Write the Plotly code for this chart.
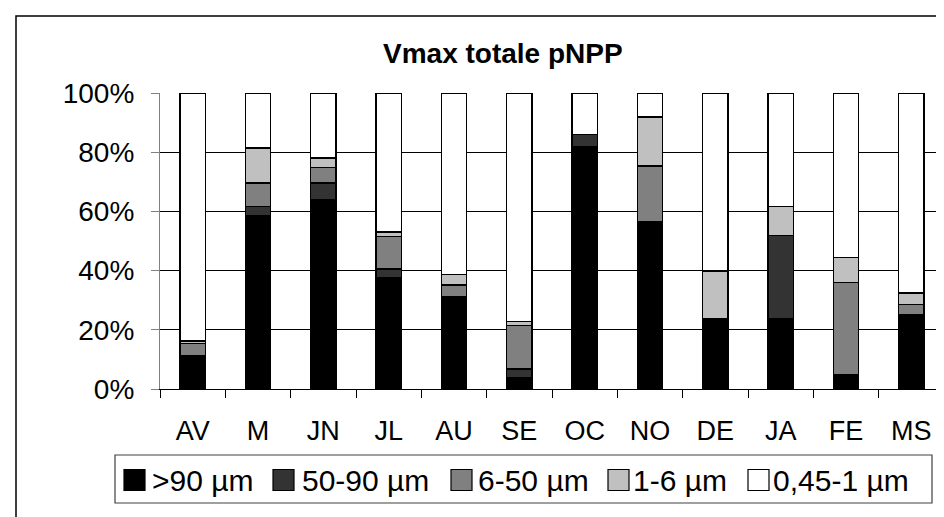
import plotly.graph_objects as go

months = ["AV", "M", "JN", "JL", "AU", "SE", "OC", "NO", "DE", "JA", "FE", "MS"]
gt90 = [11.3, 58.6, 63.9, 37.5, 31.0, 3.9, 81.7, 56.6, 23.9, 23.7, 4.7, 25.0]
s50_90 = [0, 3.1, 5.7, 3.1, 0, 2.9, 4.3, 0, 0, 28.2, 0, 0]
s6_50 = [4.0, 7.9, 5.3, 11.0, 4.2, 14.6, 0, 18.7, 0, 0, 31.2, 3.5]
s1_6 = [1.0, 11.8, 3.1, 1.4, 3.4, 1.4, 0, 16.6, 15.9, 9.8, 8.6, 4.0]
s045_1 = [83.7, 18.6, 22.0, 47.0, 61.4, 77.2, 14.0, 8.1, 60.2, 38.3, 55.5, 67.5]

series_names = [">90 µm", "50-90 µm", "6-50 µm", "1-6 µm", "0,45-1 µm"]
series_values = [gt90, s50_90, s6_50, s1_6, s045_1]
colors = ["#000000", "#333333", "#808080", "#C0C0C0", "#FFFFFF"]
y_ticks = [0, 20, 40, 60, 80, 100]

W, H = 944, 517
L, R, T, B = 152, 936, 85, 381
FONT = "Liberation Sans, Arial, sans-serif"


def px(x):
    return (x - L) / (R - L)


def py(y):
    return (B - y) / (B - T)


fig = go.Figure()
for name, vals, col in zip(series_names, series_values, colors):
    fig.add_trace(go.Bar(
        x=months, y=vals, name=name,
        marker=dict(color=col, line=dict(color="#000000", width=1.5)),
        showlegend=False,
    ))

shapes = []
annotations = []
# outer chart border
shapes.append(dict(type="rect", xref="paper", yref="paper",
                   x0=px(8), x1=px(W + 20), y0=py(H + 20), y1=py(8),
                   line=dict(color="#000000", width=1.5), fillcolor="rgba(0,0,0,0)",
                   layer="below"))
# legend box
shapes.append(dict(type="rect", xref="paper", yref="paper",
                   x0=px(107), x1=px(924), y0=py(495), y1=py(447),
                   line=dict(color="#404040", width=1.2), fillcolor="#FFFFFF"))
sq_x = [116, 265, 443, 600, 740]
txt_x = [142, 292, 468, 623, 763]
sq = 21
cy = 472
for i, name in enumerate(series_names):
    shapes.append(dict(type="rect", xref="paper", yref="paper",
                       x0=px(sq_x[i]), x1=px(sq_x[i] + sq),
                       y0=py(cy + sq / 2), y1=py(cy - sq / 2),
                       line=dict(color="#000000", width=1.2), fillcolor=colors[i]))
    annotations.append(dict(xref="paper", yref="paper", x=px(txt_x[i]), y=py(cy),
                            text=name, showarrow=False, xanchor="left", yanchor="middle",
                            font=dict(family=FONT, size=30, color="#000000")))
# title
annotations.append(dict(xref="paper", yref="paper", x=px(495), y=py(45),
                        text="<b>Vmax totale pNPP</b>", showarrow=False,
                        xanchor="center", yanchor="middle",
                        font=dict(family=FONT, size=28, color="#000000")))

fig.update_layout(
    width=W, height=H,
    margin=dict(l=L, r=W - R, t=T, b=H - B, pad=0),
    paper_bgcolor="#FFFFFF", plot_bgcolor="#FFFFFF",
    barmode="stack", bargap=0.61,
    font=dict(family=FONT, size=27, color="#000000"),
    shapes=shapes, annotations=annotations,
    showlegend=False,
)
fig.update_xaxes(
    type="category", showgrid=False, showline=True, linecolor="#000000", linewidth=1.2,
    ticks="outside", tickson="boundaries", ticklen=8, tickcolor="#000000",
    tickfont=dict(family=FONT, size=27, color="#000000"), ticklabelstandoff=17,
)
fig.update_yaxes(
    range=[0, 100], tickvals=y_ticks, ticktext=[f"{v}%" for v in y_ticks],
    showgrid=True, gridcolor="#000000", gridwidth=1,
    showline=True, linecolor="#808080", linewidth=1.2, mirror=True,
    ticks="outside", ticklen=8, tickcolor="#808080",
    tickfont=dict(family=FONT, size=28, color="#000000"), ticklabelstandoff=11,
    zeroline=False,
)

fig.write_html("out.html")
